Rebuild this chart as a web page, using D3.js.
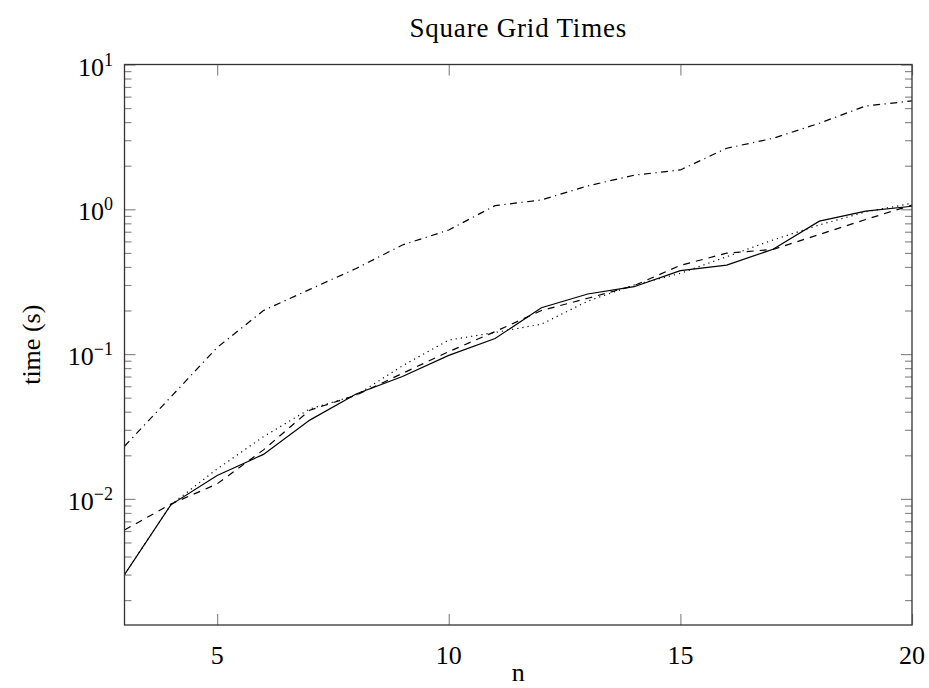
<!DOCTYPE html>
<html><head><meta charset="utf-8">
<script src="https://cdn.jsdelivr.net/npm/d3@7"></script>
<style>
body{margin:0;background:#fff;}
text{font-family:"Liberation Serif","DejaVu Serif",serif;fill:#000;}
</style></head>
<body><svg id="c" width="929" height="688"></svg>
<script>
const nValues = [3,4,5,6,7,8,9,10,11,12,13,14,15,16,17,18,19,20];
const solidTimes  = [0.0030,0.0091,0.0145,0.0203,0.035,0.053,0.070,0.098,0.128,0.209,0.26,0.292,0.377,0.412,0.53,0.828,0.972,1.05];
const dashedTimes = [0.0061,0.0092,0.0127,0.0218,0.041,0.052,0.0736,0.104,0.143,0.200,0.243,0.297,0.41,0.498,0.528,0.67,0.85,1.07];
const dottedTimes = [0.0030,0.0091,0.0161,0.0269,0.0418,0.052,0.083,0.125,0.141,0.161,0.232,0.30,0.361,0.471,0.614,0.78,0.96,1.10];
const dashdotTimes= [0.0231,0.0506,0.111,0.200,0.28,0.39,0.567,0.72,1.06,1.16,1.45,1.72,1.87,2.64,3.09,3.93,5.17,5.6];
const xTicks = [5,10,15,20];
const yMajorExps = [-2,-1,0,1];
const title = "Square Grid Times", xLabel = "n", yLabel = "time (s)";

const L=124.5, R=912, T=64.5, B=625;
const svg=d3.select("#c");
const x=d3.scaleLinear().domain([3,20]).range([L,R]);
const yMin=Math.pow(10,1-(B-T)/144.8);
const y=d3.scaleLog().domain([yMin,10]).range([B,T]);

const minor=[];
for(let e=-3;e<=0;e++){for(let m=2;m<=9;m++){const v=m*Math.pow(10,e); if(v>=yMin&&v<=10) minor.push(v);}}
const tickColor="#8a8a8a";
const g=svg.append("g");
const majors=yMajorExps.map(e=>Math.pow(10,e));
const axes=[
 [d3.axisRight(y).tickValues(minor).tickSize(7).tickFormat(""),`translate(${L},0)`],
 [d3.axisRight(y).tickValues(majors).tickSize(11).tickFormat(""),`translate(${L},0)`],
 [d3.axisLeft(y).tickValues(minor).tickSize(7).tickFormat(""),`translate(${R},0)`],
 [d3.axisLeft(y).tickValues(majors).tickSize(11).tickFormat(""),`translate(${R},0)`],
 [d3.axisTop(x).tickValues(xTicks).tickSize(11).tickFormat(""),`translate(0,${B})`],
 [d3.axisBottom(x).tickValues(xTicks).tickSize(11).tickFormat(""),`translate(0,${T})`]
];
axes.forEach(([a,t])=>{
  const ax=g.append("g").attr("transform",t).call(a);
  ax.select(".domain").remove();
  ax.selectAll("line").attr("stroke",tickColor).attr("stroke-width",1.2);
});

const line=d3.line().x((d,i)=>x(nValues[i])).y(d=>y(d));
const series=[
 {v:solidTimes,dash:null},
 {v:dashedTimes,dash:"7,6"},
 {v:dottedTimes,dash:"1.2,4"},
 {v:dashdotTimes,dash:"7,4.5,1.2,4.5"}
];
svg.append("clipPath").attr("id","clp").append("rect").attr("x",L).attr("y",T).attr("width",R-L).attr("height",B-T);
series.forEach(s=>{
  svg.append("path").datum(s.v).attr("d",line).attr("fill","none").attr("stroke","#000")
    .attr("stroke-width",1.2).attr("stroke-dasharray",s.dash).attr("clip-path","url(#clp)");
});

svg.append("rect").attr("x",L).attr("y",T).attr("width",R-L).attr("height",B-T)
  .attr("fill","none").attr("stroke","#333").attr("stroke-width",1.3);

yMajorExps.forEach(e=>{
  const t=svg.append("text").attr("x",113).attr("y",y(Math.pow(10,e))+11).attr("text-anchor","end").attr("font-size",26);
  t.append("tspan").text("10");
  t.append("tspan").attr("dy",-10).attr("font-size",18).text(e<0?"\u2212"+(-e):String(e));
});
xTicks.forEach(v=>{
  svg.append("text").attr("x",x(v)).attr("y",664).attr("text-anchor","middle").attr("font-size",26).text(v);
});
svg.append("text").attr("x",(L+R)/2).attr("y",681).attr("text-anchor","middle").attr("font-size",26).text(xLabel);
svg.append("text").attr("transform",`translate(40,${(T+B)/2}) rotate(-90)`).attr("text-anchor","middle").attr("font-size",26).text(yLabel);
svg.append("text").attr("x",(L+R)/2).attr("y",37).attr("text-anchor","middle").attr("font-size",27).attr("letter-spacing",0.8).text(title);
</script></body></html>
